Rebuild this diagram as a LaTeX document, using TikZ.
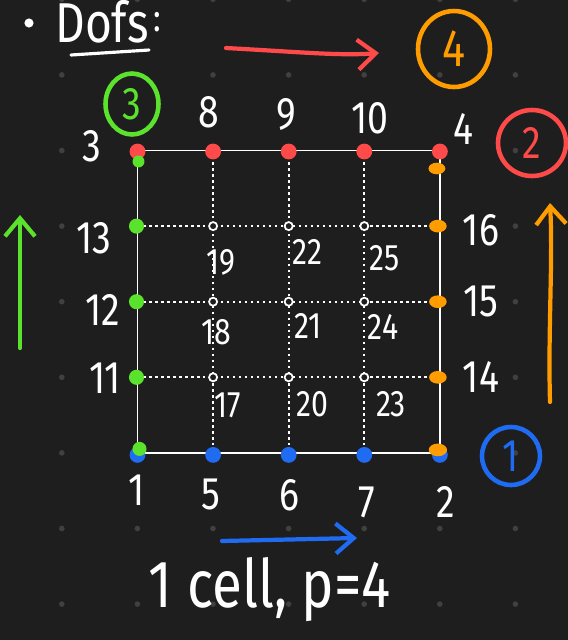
\documentclass[tikz,border=0pt]{standalone}
\usepackage{fontspec}
\setmainfont{Fira Sans}[FakeStretch=0.82]
\usetikzlibrary{arrows.meta,shapes.geometric}
\definecolor{board}{HTML}{1E1E1E}
\definecolor{boarddot}{HTML}{404040}
\definecolor{dofred}{HTML}{FF4A4A}
\definecolor{dofgreen}{HTML}{5AE22C}
\definecolor{doforange}{HTML}{FF9D00}
\definecolor{dofblue}{HTML}{1F6CF2}
\tikzset{
  lab/.style={text=white,inner sep=0pt,font=\fontsize{26}{26}\selectfont},
  inlab/.style={text=white,inner sep=0pt,font=\fontsize{21}{21}\selectfont},
  ring/.style={ellipse,draw=#1,text=#1,line width=2.6pt,inner sep=0pt,
    font=\fontsize{26}{26}\selectfont},
  pen/.style={line width=2.4pt,line cap=round,line join=round,
    -{Straight Barb[length=3.6mm,width=6mm,line width=2.4pt]}},
}
\begin{document}
\begin{tikzpicture}[x=0.02cm,y=-0.02cm]
\def\xo{137.5}\def\yo{150.5}\def\h{75.6}
% ================= board =================
\fill[board] (0,0) rectangle (568,640);
\useasboundingbox (0,0) rectangle (568,640);
\foreach \i in {0,...,6} {
  \foreach \j in {0,...,8} {
    \fill[boarddot] (61.8+\i*\h,-0.7+\j*\h) circle (1.6pt);
  }
}
% ================= title =================
\fill[white] (29,23) circle (2.6pt);
\node[text=white,inner sep=0pt,font=\fontsize{32}{32}\selectfont] (dofs) at (102,22) {Dofs};
\node[text=white,inner sep=0pt,font=\fontsize{22}{22}\selectfont] (colon) at (157,22) {:};
\draw[white,line width=1.8pt,line cap=round] (71,55) -- (149,50);
% ================= mesh =================
\foreach \i in {1,2,3} {
  \pgfmathsetmacro{\xx}{\xo+\i*\h}
  \pgfmathsetmacro{\yy}{\yo+\i*\h}
  \draw[white,line width=1.3pt,dash pattern=on 1.3pt off 2.1pt] (\xx,\yo) -- (\xx,\yo+4*\h);
  \draw[white,line width=1.3pt,dash pattern=on 1.3pt off 2.1pt] (\xo,\yy) -- (\xo+4*\h,\yy);
}
\draw[white,line width=1.1pt] (\xo,\yo) rectangle (\xo+4*\h,\yo+4*\h);
% interior dofs
\foreach \i in {1,2,3} {
  \foreach \j in {1,2,3} {
    \filldraw[draw=white,fill=board,line width=1pt] (\xo+\i*\h,\yo+\j*\h) circle (2.3pt);
  }
}
% edge dofs
\foreach \i in {0,...,4} {
  \fill[dofred] (\xo+\i*\h,\yo+1) circle (4.5pt);
  \fill[dofblue] (\xo+\i*\h,\yo+4*\h+2) circle (4.5pt);
}
\foreach \j in {1,2,3} {
  \fill[dofgreen] (\xo-1,\yo+\j*\h) circle (4.3pt);
  \fill[doforange] (\xo+4*\h-2,\yo+\j*\h) ellipse (5pt and 3.6pt);
}
\fill[dofgreen] (\xo+1,\yo+11) circle (3.4pt);
\fill[doforange] (\xo+4*\h-3,\yo+18) ellipse (4.8pt and 3.3pt);
\fill[dofgreen] (\xo+2,\yo+4*\h-4) circle (4pt);
\fill[doforange] (\xo+4*\h-2,\yo+4*\h-3) ellipse (5.2pt and 3.6pt);
% ================= labels =================
\node[lab] (n1) at (137,490) {1};
\node[lab] (n2) at (446,502) {2};
\node[lab] (n3) at (92,146) {3};
\node[lab] (n4) at (463,129) {4};
\node[lab] (n5) at (211,494) {5};
\node[lab] (n6) at (289,495) {6};
\node[lab] (n7) at (367,502) {7};
\node[lab] (n8) at (209,112) {8};
\node[lab] (n9) at (286,114) {9};
\node[lab] (n10) at (370,118) {10};
\node[lab] (n11) at (105,378) {11};
\node[lab] (n12) at (103,310) {12};
\node[lab] (n13) at (94,238) {13};
\node[lab] (n14) at (481,377) {14};
\node[lab] (n15) at (481,301) {15};
\node[lab] (n16) at (481,230) {16};
\node[inlab] (n17) at (228,405) {17};
\node[inlab] (n18) at (216,332) {18};
\node[inlab] (n19) at (221,262) {19};
\node[inlab] (n20) at (312,404) {20};
\node[inlab] (n21) at (308,326) {21};
\node[inlab] (n22) at (307,252) {22};
\node[inlab] (n23) at (391,404) {23};
\node[inlab] (n24) at (383,327) {24};
\node[inlab] (n25) at (385,258) {25};
% ================= circled edge numbers =================
\node[ring=dofblue,minimum width=1.16cm,minimum height=1.16cm] (r1) at (511,456) {1};
\node[ring=dofred,minimum width=1.36cm,minimum height=1.32cm] (r2) at (532,143) {2};
\node[ring=dofgreen,minimum width=1.06cm,minimum height=1.22cm] (r3) at (132,104) {3};
\node[ring=doforange,minimum width=1.44cm,minimum height=1.52cm,
  font=\fontsize{30}{30}\selectfont] (r4) at (454,49) {4};
% ================= edge directions =================
\coordinate (redS) at (226,48);  \coordinate (redE) at (379,53);
\coordinate (bluS) at (222,541); \coordinate (bluE) at (357,538);
\coordinate (grnS) at (20,348);  \coordinate (grnE) at (20,215);
\coordinate (orgS) at (550,402); \coordinate (orgE) at (550,203);
\draw[pen,dofred] (redS) .. controls (300,52) and (340,56) .. (redE);
\draw[pen,dofblue] (bluS) -- (bluE);
\draw[pen,dofgreen] (grnS) -- (grnE);
\draw[pen,doforange] (orgS) .. controls (548,330) and (553,260) .. (orgE);
% ================= caption =================
\node[text=white,inner sep=0pt,anchor=base,font=\fontsize{38}{38}\selectfont] (cap) at (270,607) {1 cell, p=4};
\end{tikzpicture}
\end{document}
